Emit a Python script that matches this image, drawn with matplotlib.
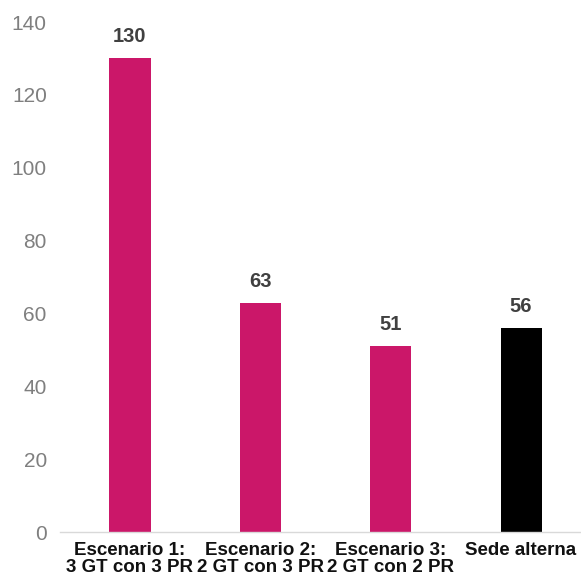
import matplotlib.pyplot as plt

# Data
categories = ['Escenario 1:\n3 GT con 3 PR', 'Escenario 2:\n2 GT con 3 PR',
              'Escenario 3:\n2 GT con 2 PR', 'Sede alterna']
values = [130, 63, 51, 56]
colors = ['#CB1769', '#CB1769', '#CB1769', '#000000']

plt.rcParams['font.family'] = ['Liberation Sans', 'DejaVu Sans']

fig = plt.figure(figsize=(5.81, 5.83), dpi=100)
ax = fig.add_axes([60 / 581, 51 / 583, 521 / 581, 510 / 583])

x = range(len(categories))
bars = ax.bar(x, values, width=0.315, color=colors)

for xi, v in zip(x, values):
    ax.annotate(str(v), (xi, v), xytext=(0, 11.5), textcoords='offset points',
                ha='center', va='baseline', fontsize=14.5, fontweight='bold',
                color='#404040')

ax.set_xlim(-0.537, 3.46)
ax.set_ylim(0, 140)
ax.set_yticks(range(0, 141, 20))
ax.set_xticks(list(x))
ax.set_xticklabels(categories, fontsize=13.5, fontweight='bold', color='#111111',
                   linespacing=1.05)
ax.tick_params(axis='y', labelsize=15, labelcolor='#7f7f7f', length=0, pad=9.5)
ax.tick_params(axis='x', length=0, pad=7)

for s in ['top', 'right', 'left']:
    ax.spines[s].set_visible(False)
ax.spines['bottom'].set_color('#d9d9d9')
ax.spines['bottom'].set_linewidth(1)

fig.savefig('out.png', dpi=100)
